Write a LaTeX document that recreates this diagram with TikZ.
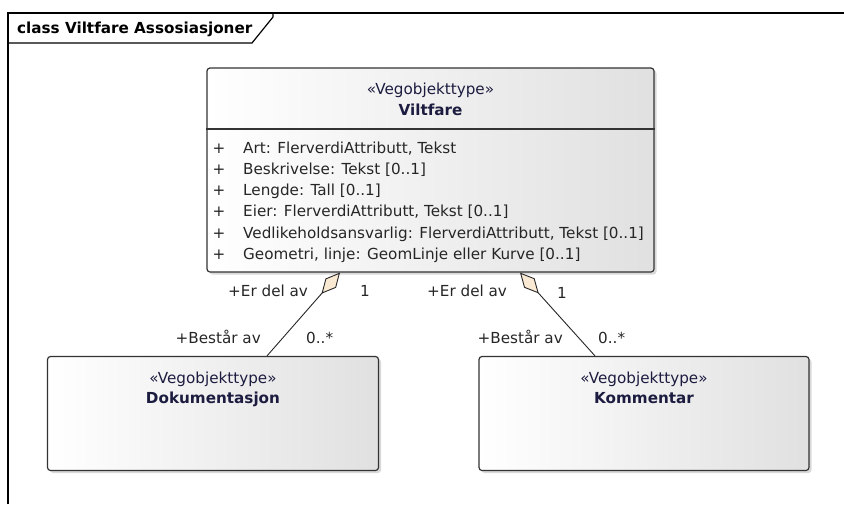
\documentclass[tikz,border=0pt]{standalone}
\usepackage{fontspec}
\setmainfont{DejaVu Sans}
\usetikzlibrary{arrows.meta,shadows,positioning}
\definecolor{aggfill}{RGB}{250,234,212}
\definecolor{stereoblue}{RGB}{28,28,64}
\newcommand{\umlfont}{\fontsize{15.2}{18}\selectfont}
\tikzset{
    klasse/.style={draw=black!80, line width=1.2pt, rounded corners=3pt, inner sep=0pt,
        left color=white, right color=black!12,
        drop shadow={shadow xshift=2.5pt, shadow yshift=-2.5pt, opacity=0.25, fill=black!60}},
    tekst/.style={font=\umlfont, inner sep=0pt, text=black!85},
    stereo/.style={font=\umlfont, inner sep=0pt, text=stereoblue, anchor=base},
    aggr/.style={{Diamond[length=28pt,width=14pt,fill=aggfill,line width=0.9pt]}-, line width=0.9pt, draw=black!85},
}

\begin{document}
\begin{tikzpicture}[x=1pt,y=-1pt]
	\useasboundingbox (0,0) rectangle (844,504);
	% ramme
	\draw[line width=1.2pt] (8,504) -- (8,13) -- (844,13);
	\draw[line width=1.2pt] (8,43) -- (252,43) -- (273,17) -- (273,13);
	\node[tekst, anchor=base west, font=\umlfont\bfseries, text=black] (tittel) at (17,33) {class Viltfare Assosiasjoner};
	% klasser
	\node[klasse, minimum width=447pt, minimum height=204pt] (vilt) at (430.5,170) {};
	\node[klasse, minimum width=331pt, minimum height=114pt] (dok) at (213,413.5) {};
	\node[klasse, minimum width=330pt, minimum height=114pt] (kom) at (644,413.5) {};
	\draw[draw=black!80, line width=1.2pt] (vilt.west |- 0,129) -- (vilt.east |- 0,129);
	\node[stereo] (viltstereo) at (430.5,94) {«Vegobjekttype»};
	\node[stereo, font=\umlfont\bfseries] (viltnavn) at (430.5,115) {Viltfare};
	\node[stereo] (dokstereo) at (213,383) {«Vegobjekttype»};
	\node[stereo, font=\umlfont\bfseries] (doknavn) at (213,403) {Dokumentasjon};
	\node[stereo] (komstereo) at (644,383) {«Vegobjekttype»};
	\node[stereo, font=\umlfont\bfseries] (komnavn) at (644,403) {Kommentar};
	\foreach \txt [count=\i from 0] in {{Art: FlerverdiAttributt, Tekst},{Beskrivelse: Tekst [0..1]},{Lengde: Tall [0..1]},{Eier: FlerverdiAttributt, Tekst [0..1]},{Vedlikeholdsansvarlig: FlerverdiAttributt, Tekst [0..1]},{Geometri, linje: GeomLinje eller Kurve [0..1]}} {
		\node[tekst, anchor=base] (pluss\i) at (219,153+21.3*\i) {+};
		\node[tekst, anchor=base west] (attr\i) at (243,153+21.3*\i) {\txt};
	}
	% assosiasjoner
	\draw[aggr] ([xshift=-90.5pt]vilt.south) -- ([xshift=54pt]dok.north);
	\draw[aggr] ([xshift=89.5pt]vilt.south) -- ([xshift=-49pt]kom.north);
	\node[tekst, anchor=base west] (rolle1) at (228,296) {+Er del av};
	\node[tekst, anchor=base west] (mult1) at (360,296) {1};
	\node[tekst, anchor=base east] (rolle2) at (261,343) {+Består av};
	\node[tekst, anchor=base west] (mult2) at (306,343) {0..*};
	\node[tekst, anchor=base west] (rolle3) at (427,296) {+Er del av};
	\node[tekst, anchor=base west] (mult3) at (557,298) {1};
	\node[tekst, anchor=base east] (rolle4) at (563,343) {+Består av};
	\node[tekst, anchor=base west] (mult4) at (598,343) {0..*};
\end{tikzpicture}
\end{document}
